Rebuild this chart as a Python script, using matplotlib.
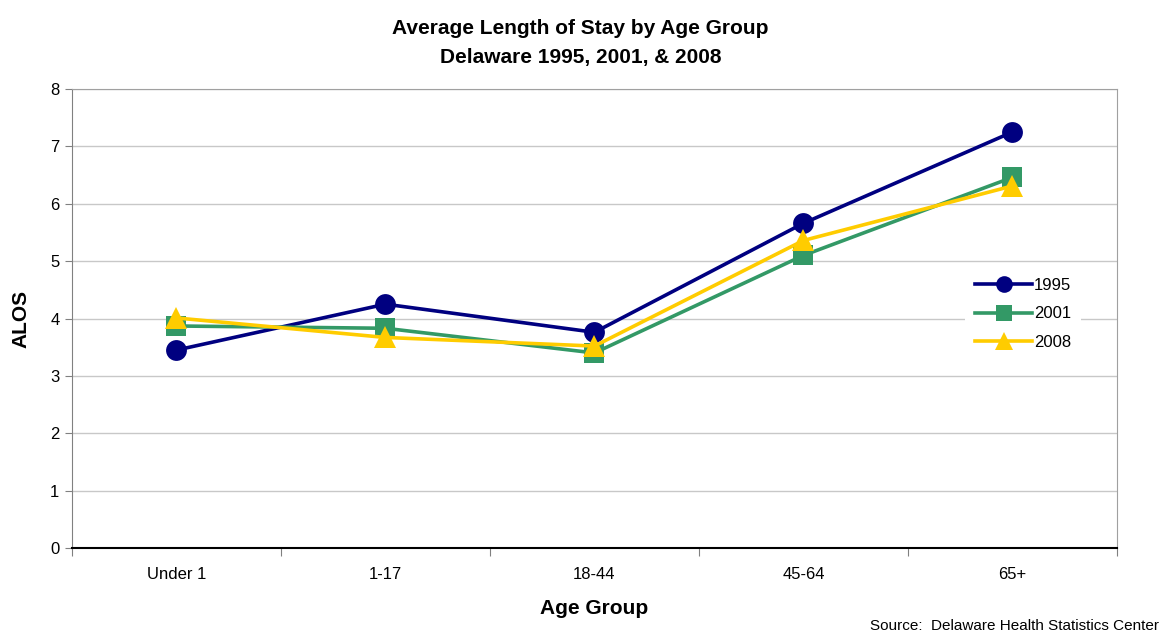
import matplotlib.pyplot as plt
from matplotlib.ticker import FixedLocator

plt.rcParams["font.family"] = ["Liberation Sans", "DejaVu Sans"]

age_groups = ["Under 1", "1-17", "18-44", "45-64", "65+"]
alos_1995 = [3.45, 4.25, 3.76, 5.66, 7.25]
alos_2001 = [3.87, 3.83, 3.40, 5.10, 6.46]
alos_2008 = [4.01, 3.67, 3.52, 5.36, 6.31]

series = [
    ("1995", alos_1995, "#000080", "o", 15),
    ("2001", alos_2001, "#339966", "s", 14),
    ("2008", alos_2008, "#FFCC00", "^", 16),
]


def main():
    fig = plt.figure(figsize=(11.61, 6.38), dpi=100)
    fig.patch.set_facecolor("white")
    ax = fig.add_axes([0.062, 0.141, 0.900, 0.7195])

    x = list(range(len(age_groups)))
    for i, (name, vals, color, marker, ms) in enumerate(series):
        ax.plot(x, vals, color=color, lw=2.6, marker=marker, markersize=ms,
                markeredgewidth=0, label=name, zorder=3 + i, clip_on=False)

    ax.set_xlim(-0.5, len(age_groups) - 0.5)
    ax.set_ylim(0, 8)
    ax.set_yticks(range(0, 9))
    ax.yaxis.grid(True, color="#c8c8c8", lw=1)
    ax.set_axisbelow(True)

    # category boundaries as major ticks, labels on centered minor ticks
    ax.xaxis.set_major_locator(FixedLocator([i - 0.5 for i in range(len(age_groups) + 1)]))
    ax.xaxis.set_major_formatter(plt.NullFormatter())
    ax.set_xticks(x, minor=True)
    ax.set_xticklabels(age_groups, minor=True, fontsize=12)
    ax.tick_params(axis="x", which="major", direction="out", length=6, color="#808080")
    ax.tick_params(axis="x", which="minor", length=0, pad=14)
    ax.tick_params(axis="y", direction="out", length=5, color="#808080", labelsize=12, pad=4)

    for side in ["top", "right"]:
        ax.spines[side].set_color("#a0a0a0")
    ax.spines["left"].set_color("#808080")
    ax.spines["bottom"].set_color("#000000")
    ax.spines["bottom"].set_linewidth(1.5)

    ax.set_xlabel("Age Group", fontsize=15, fontweight="bold", labelpad=12)
    ax.set_ylabel("ALOS", fontsize=15, fontweight="bold", labelpad=14)

    fig.text(0.50, 0.955, "Average Length of Stay by Age Group", ha="center", va="center",
             fontsize=15, fontweight="bold")
    fig.text(0.50, 0.91, "Delaware 1995, 2001, & 2008", ha="center", va="center",
             fontsize=15, fontweight="bold")

    leg = ax.legend(loc="center left", bbox_to_anchor=(0.847, 0.51), frameon=True,
                    fontsize=12, handlelength=3.4, handletextpad=0.1, labelspacing=0.8,
                    borderpad=0.6, markerscale=0.8)
    leg.get_frame().set_edgecolor("none")
    leg.get_frame().set_facecolor("white")
    leg.get_frame().set_alpha(1.0)

    fig.text(0.998, 0.008, "Source:  Delaware Health Statistics Center", ha="right", va="bottom",
             fontsize=11)

    fig.savefig("out.png", dpi=100, facecolor="white")
    plt.close(fig)


if __name__ == "__main__":
    main()
